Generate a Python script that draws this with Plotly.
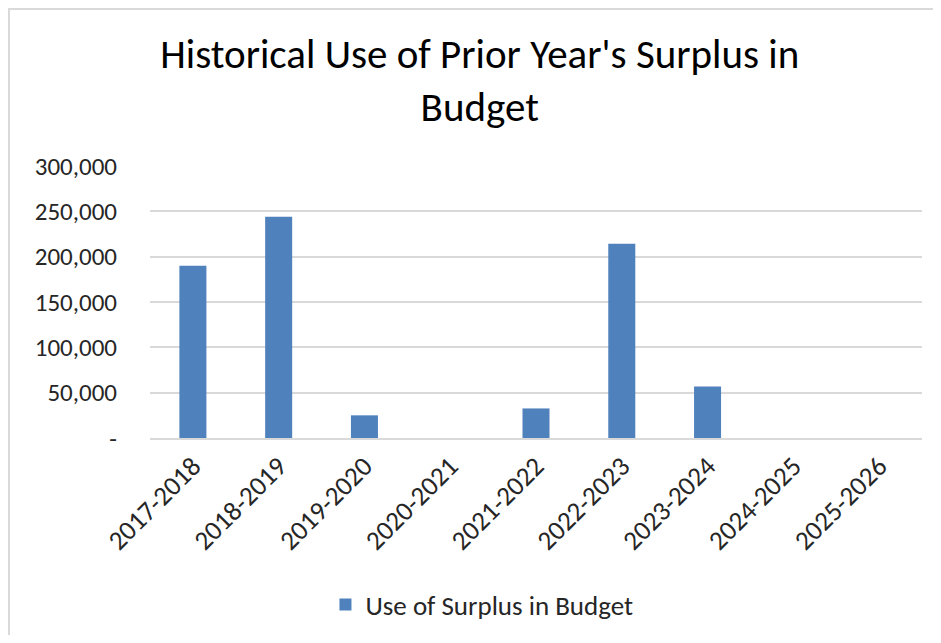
import plotly.graph_objects as go

categories = ["2017-2018", "2018-2019", "2019-2020", "2020-2021", "2021-2022",
              "2022-2023", "2023-2024", "2024-2025", "2025-2026"]
values = [190000, 244000, 25000, 0, 32600, 214300, 56900, 0, 0]
series_name = "Use of Surplus in Budget"
title_text = "Historical Use of Prior Year's Surplus in<br>Budget"
y_tickvals = [0, 50000, 100000, 150000, 200000, 250000, 300000]
y_ticktext = ["-", "50,000", "100,000", "150,000", "200,000", "250,000", "300,000"]

FONT = "Carlito, Lato, 'Open Sans', sans-serif"

fig = go.Figure()
fig.add_trace(go.Bar(
    x=categories, y=values, name=series_name,
    marker=dict(color="#4f81bd", line=dict(width=0)),
    showlegend=True,
))

W, H = 925, 627
ml, mr, mt, mb = 142, 11, 158, 197
pw, ph = W - ml - mr, H - mt - mb

fig.update_layout(
    width=W, height=H,
    margin=dict(l=ml, r=mr, t=mt, b=mb, autoexpand=False),
    paper_bgcolor="white", plot_bgcolor="white",
    font=dict(family=FONT, size=24, color="#262626"),
    title=dict(text=title_text, x=0.51, xanchor="center", y=0.904, yanchor="middle",
               font=dict(family=FONT, size=41, color="#000000")),
    bargap=0.685,
    showlegend=True,
    legend=dict(orientation="h", x=0.43, xanchor="center", y=-0.614, yanchor="middle",
                font=dict(family=FONT, size=27, color="#262626")),
    xaxis=dict(tickangle=-45, showgrid=False, showline=True, linecolor="#d9d9d9",
               linewidth=1.5, ticks="", tickfont=dict(size=27), fixedrange=True,
               automargin=False),
    yaxis=dict(range=[0, 300000], tickvals=y_tickvals, ticktext=y_ticktext,
               showgrid=True, gridcolor="#d9d9d9", gridwidth=1.5, zeroline=False,
               showline=False, ticks="", ticklabelstandoff=32, tickfont=dict(size=25),
               automargin=False),
    shapes=[dict(type="rect", xref="paper", yref="paper",
                 x0=(1 - ml) / pw, x1=(940 - ml) / pw,
                 y0=(H - mb - 660) / ph, y1=(H - mb - 1) / ph,
                 line=dict(color="#d9d9d9", width=2), fillcolor="rgba(0,0,0,0)",
                 layer="below")],
)

fig.write_html("out.html")
